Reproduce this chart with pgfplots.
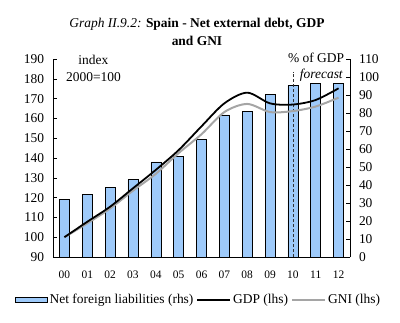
\documentclass[border=0pt]{standalone}
\usepackage{pgfplots}
\pgfplotsset{compat=1.18}
\usepackage{fontspec}
\setmainfont{Liberation Serif}
\definecolor{barblue}{RGB}{158,202,250}
\definecolor{gnigray}{RGB}{165,165,165}
\begin{document}
\begin{tikzpicture}
\pgfplotsset{every axis/.append style={
  scale only axis, width=297bp, height=198bp,
  xmin=-0.5, xmax=12.5,
  font=\fontsize{13.5}{15}\selectfont,
  /pgf/number format/assume math mode=true,
  clip=false}}
% bars on right axis
\begin{axis}[
  name=rax,
  axis y line*=right, axis x line=none,
  ymin=0, ymax=110, ytick={0,10,...,110},
  ytick style={black, line width=0.6pt},
  tick align=inside, major tick length=4bp,
  y tick label style={xshift=5.5bp},
  axis line style={black, line width=0.6pt},
  ]
\addplot[ybar, bar width=10bp, fill=barblue, draw=black, line width=0.6pt]
 coordinates {(0,32) (1,34.6) (2,38.5) (3,43) (4,52.8) (5,56) (6,65.5) (7,79) (8,80.8) (9,90.2) (10,95.4) (11,96.5) (12,96.5)};
\addplot[black!80, dash pattern=on 3bp off 2bp, line width=0.5pt] coordinates {(10,0) (10,103)};
\node[anchor=base east, inner sep=0pt] at (axis cs:12.25,107.8) {\% of GDP};
\node[anchor=base east, inner sep=0pt] at (axis cs:12.19,99.4) {\itshape forecast};
\end{axis}
% lines on left axis
\begin{axis}[
  axis y line*=left, axis x line*=bottom,
  ymin=90, ymax=190, ytick={90,100,...,190},
  xtick={0,...,12},
  xticklabels={00,01,02,03,04,05,06,07,08,09,10,11,12},
  extra x ticks={0.5,1.5,...,11.5},
  extra x tick labels={},
  extra x tick style={tick align=inside, major tick length=4bp, tick style={black, line width=0.6pt}},
  x tick style={draw=none},
  ytick style={black, line width=0.6pt},
  y tick label style={xshift=-5.5bp},
  x tick label style={yshift=-10bp, font=\fontsize{11.5}{13}\selectfont},
  tick align=inside, major tick length=4bp,
  axis line style={black, line width=0.6pt},
  legend style={at={(0.49,-0.217)}, anchor=center, draw=none, fill=none,
    legend columns=-1, font=\fontsize{13.5}{15}\selectfont, inner sep=0pt,
    /tikz/every even column/.append style={column sep=1bp}},
  legend cell align=left,
  legend image code/.code={\draw[#1] (0bp,0bp) -- (33bp,0bp);},
  ]
\addlegendimage{legend image code/.code={\draw[fill=barblue, draw=black, line width=0.6pt] (0bp,-2.5bp) rectangle (32bp,2.5bp);}}
\addlegendentry{Net foreign liabilities (rhs)}
\addplot[gnigray, line width=2pt, smooth, forget plot]
 coordinates {(0,100) (1,107) (2,114.5) (3,123.5) (4,132) (5,142.5) (6,152) (7,163.2) (8,167.3) (9,163.2) (10,163.7) (11,166) (12,170.5)};
\addplot[black, line width=1.8pt, smooth]
 coordinates {(0,100) (1,107.8) (2,115.4) (3,124.7) (4,134) (5,144) (6,156) (7,167.6) (8,173) (9,167.6) (10,167) (11,169.3) (12,175.2)};
\addlegendentry{GDP (lhs)}
\addlegendimage{gnigray, line width=2pt}
\addlegendentry{GNI (lhs)}
\node[anchor=base, inner sep=0pt] at (axis cs:1.27,187) {index};
\node[anchor=base, inner sep=0pt] at (axis cs:1.27,178.4) {2000=100};
\end{axis}
\path (current axis.south west) ++(-53bp,-66bp) rectangle ++(400bp,323bp);
\node[align=center, inner sep=0pt, font=\fontsize{13.5}{18}\selectfont, anchor=center]
  at ([xshift=144bp,yshift=225bp]current axis.south west)
  {\textit{Graph II.9.2:} \textbf{Spain - Net external debt, GDP}\\ \textbf{and GNI}};
\end{tikzpicture}
\end{document}
